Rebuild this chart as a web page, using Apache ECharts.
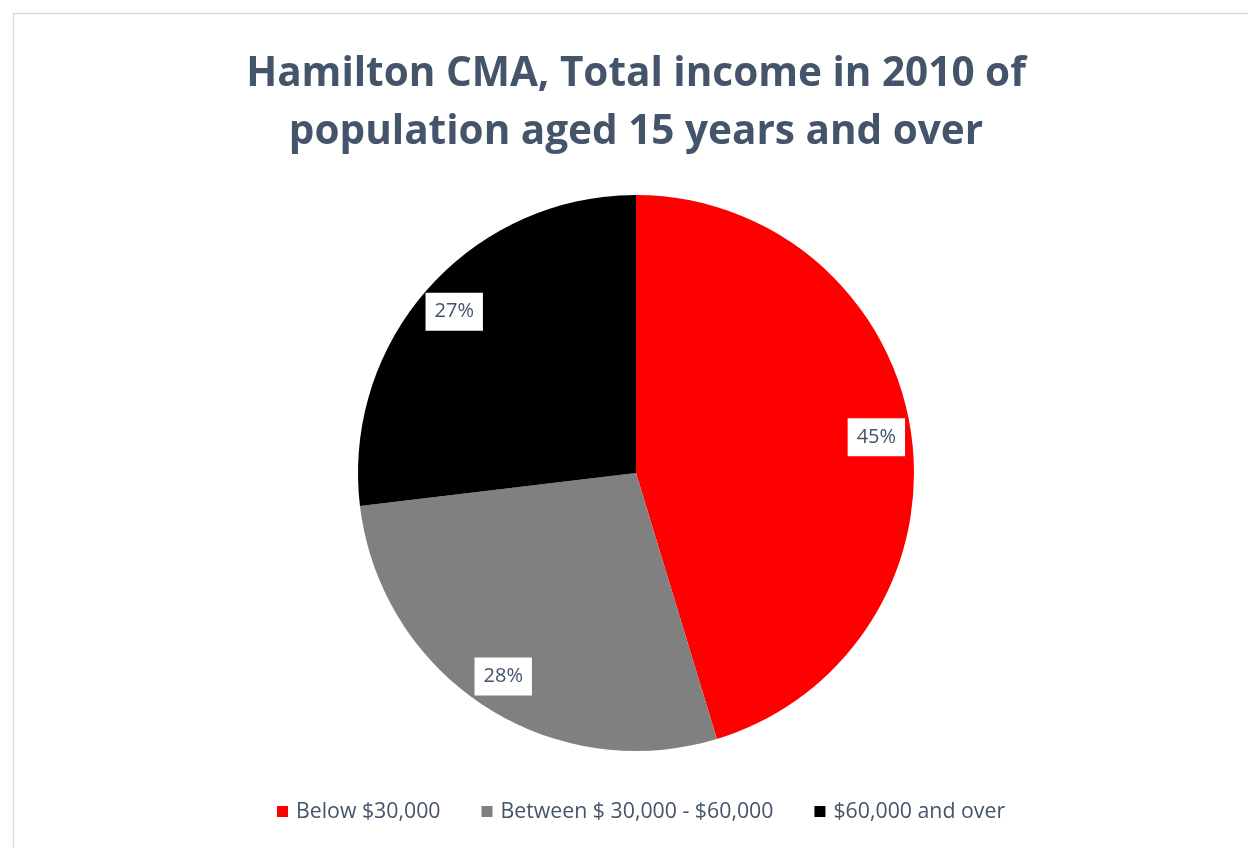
<!DOCTYPE html>
<html>
<head>
<meta charset="utf-8">
<script src="https://cdn.jsdelivr.net/npm/echarts@6/dist/echarts.min.js"></script>
<style>
html,body{margin:0;padding:0;background:#fff;}
#main{width:1248px;height:848px;}
</style>
</head>
<body>
<div id="main"></div>
<script>
const titleLines = ['Hamilton CMA, Total income in 2010 of', 'population aged 15 years and over'];
const categories = ['Below $30,000', 'Between $ 30,000 - $60,000', '$60,000 and over'];
const values = [45.3, 27.8, 26.9];
const colors = ['#FF0000', '#808080', '#000000'];

const textColor = '#44546A';
const font = 'Open Sans';

const chart = echarts.init(document.getElementById('main'), null, {renderer: 'canvas'});
const data = categories.map((c, i) => ({name: c, value: values[i], itemStyle: {color: colors[i]}}));

chart.setOption({
  backgroundColor: '#fff',
  animation: false,
  graphic: [{
    type: 'rect', z: -1,
    shape: {x: 13.5, y: 13.5, width: 1400, height: 1000},
    style: {fill: '#fff', stroke: '#D9D9D9', lineWidth: 1.5}
  }],
  title: {
    text: titleLines.join('\n'),
    left: 631, top: 40,
    textAlign: 'center',
    textStyle: {fontFamily: font, fontWeight: 'bold', fontSize: 40.5, color: textColor, lineHeight: 58}
  },
  legend: {
    bottom: 21, left: 272,
    icon: 'rect', itemWidth: 11, itemHeight: 11, itemGap: 41,
    data: categories,
    textStyle: {fontFamily: font, fontSize: 21.3, color: textColor, padding: [0, 0, 0, 3]}
  },
  series: [{
    type: 'pie',
    center: [636, 473],
    radius: [0, 278],
    startAngle: 90,
    clockwise: true,
    label: {show: false},
    labelLine: {show: false},
    silent: true,
    data: data
  }, {
    type: 'pie',
    center: [636, 473],
    radius: [202, 278],
    startAngle: 90,
    clockwise: true,
    silent: true,
    itemStyle: {color: 'rgba(0,0,0,0)'},
    labelLine: {show: false},
    label: {
      show: true, position: 'inside',
      formatter: p => Math.round(p.value) + '%',
      fontFamily: font, fontSize: 20, color: textColor,
      backgroundColor: '#fff', padding: [9, 9, 9, 9]
    },
    data: categories.map((c, i) => ({name: c, value: values[i], itemStyle: {color: 'rgba(0,0,0,0)'}})),
    legendHoverLink: false
  }]
});
</script>
</body>
</html>
